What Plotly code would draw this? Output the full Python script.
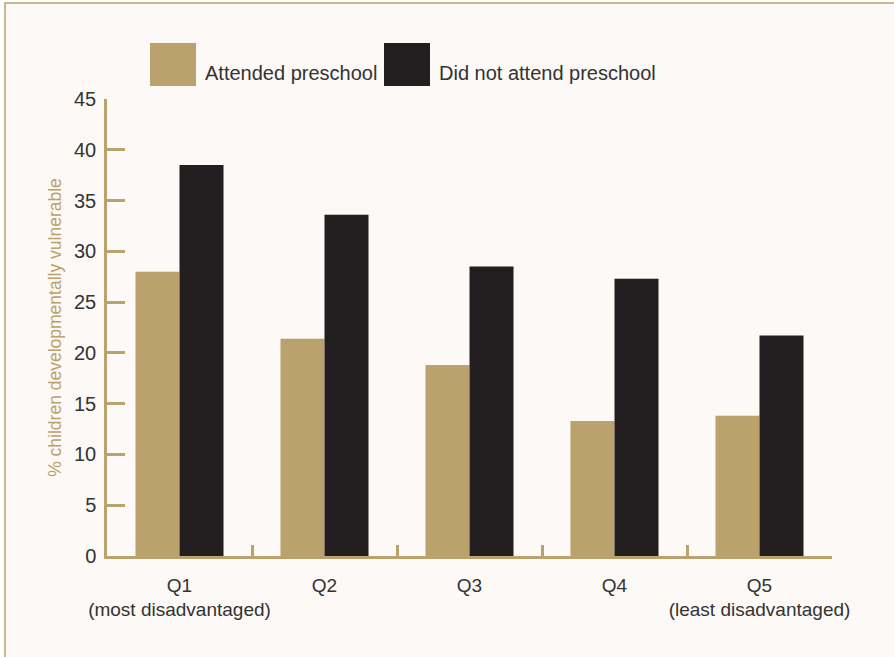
import plotly.graph_objects as go

categories = ["Q1<br>(most disadvantaged)", "Q2", "Q3", "Q4", "Q5<br>(least disadvantaged)"]
attended = [28.0, 21.4, 18.8, 13.3, 13.8]
not_attended = [38.5, 33.6, 28.5, 27.3, 21.7]
series_names = ["Attended preschool", "Did not attend preschool"]
y_ticks = [0, 5, 10, 15, 20, 25, 30, 35, 40, 45]

TAN = "#BBA16B"
DARK = "#231F20"
TEXT = "#333333"
BG = "#FDF9F6"
FONT = "Liberation Sans, Arial, sans-serif"

fig = go.Figure()
fig.add_trace(go.Bar(x=categories, y=attended, name=series_names[0],
                     marker=dict(color=TAN, line=dict(width=0)), showlegend=False))
fig.add_trace(go.Bar(x=categories, y=not_attended, name=series_names[1],
                     marker=dict(color=DARK, line=dict(width=0)), showlegend=False))

W, H = 894, 657
ml, mr, mt, mb = 107, 62, 99, 101
pw, ph = W - ml - mr, H - mt - mb

def px(x):
    return (x - ml) / pw

def py(y):
    return (H - mb - y) / ph

shapes = [
    # background panel with border
    dict(type="rect", xref="paper", yref="paper", x0=px(5), x1=px(910), y0=py(680), y1=py(3),
         fillcolor=BG, line=dict(color=TAN, width=1.5), layer="below"),
    # legend swatches
    dict(type="rect", xref="paper", yref="paper", x0=px(150), x1=px(196), y0=py(86), y1=py(43),
         fillcolor=TAN, line=dict(width=0)),
    dict(type="rect", xref="paper", yref="paper", x0=px(384), x1=px(430), y0=py(86), y1=py(43),
         fillcolor=DARK, line=dict(width=0)),
]

annotations = [
    dict(text=series_names[0], xref="paper", yref="paper", x=px(203), y=py(73),
         xanchor="left", yanchor="middle", showarrow=False, font=dict(size=20, color=TEXT, family=FONT)),
    dict(text=series_names[1], xref="paper", yref="paper", x=px(437), y=py(73),
         xanchor="left", yanchor="middle", showarrow=False, font=dict(size=20, color=TEXT, family=FONT)),
]

fig.update_layout(
    width=W, height=H,
    margin=dict(l=ml, r=mr, t=mt, b=mb, autoexpand=False),
    paper_bgcolor="white",
    plot_bgcolor="rgba(0,0,0,0)",
    barmode="group",
    bargap=0.393,
    bargroupgap=0,
    font=dict(family=FONT, color=TEXT, size=18),
    shapes=shapes,
    annotations=annotations,
    showlegend=False,
)

fig.update_xaxes(
    type="category",
    range=[-0.5, 4.5],
    automargin=False,
    tickangle=0,
    showline=True, linecolor=TAN, linewidth=2.5,
    ticks="inside", tickson="boundaries", ticklen=11, tickwidth=2.5, tickcolor=TAN,
    showgrid=False, zeroline=False,
    tickfont=dict(size=19, color=TEXT, family=FONT),
    ticklabelstandoff=10,
)

fig.update_yaxes(
    range=[0, 45],
    automargin=False,
    tickvals=y_ticks,
    showline=True, linecolor=TAN, linewidth=2.5,
    ticks="inside", ticklen=18, tickwidth=2.5, tickcolor=TAN,
    showgrid=False, zeroline=False,
    tickfont=dict(size=20, color=TEXT, family=FONT),
    ticklabelstandoff=4,
    title=dict(text="% children developmentally vulnerable", standoff=8,
               font=dict(size=17.5, color=TAN, family=FONT)),
)

fig.write_html("out.html")
